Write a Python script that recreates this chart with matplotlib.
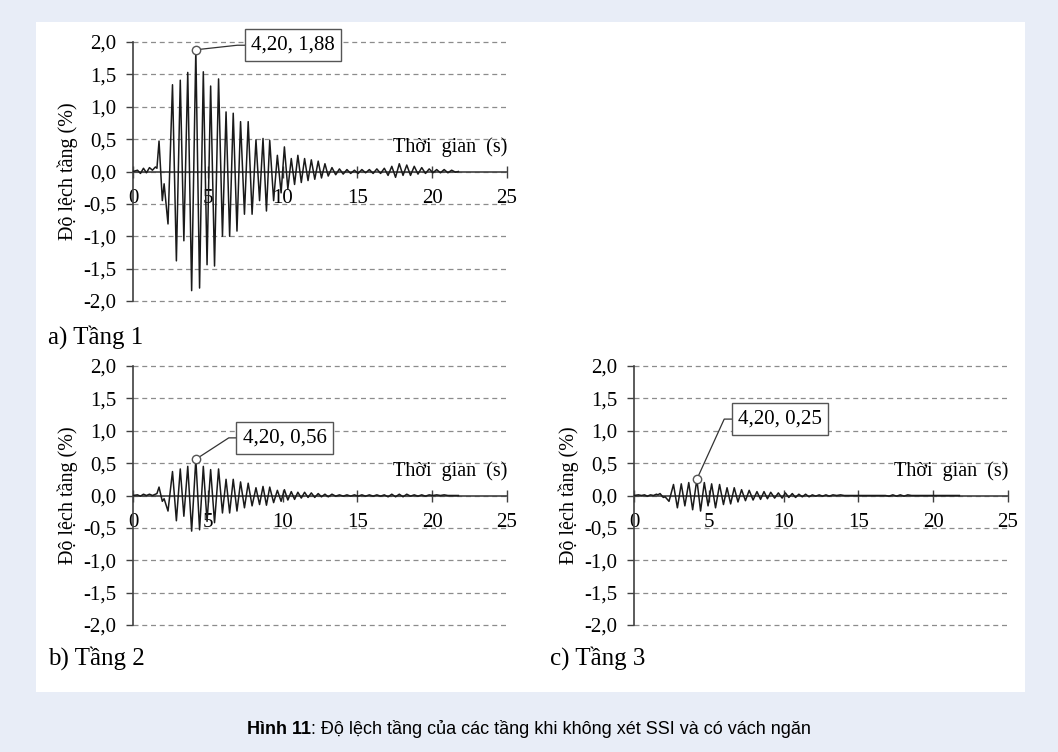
import numpy as np
import matplotlib.pyplot as plt
from matplotlib.patches import Rectangle

# time of each peak / turning point (s), shared by the three storeys
time_s = [0.0, 0.3, 0.5, 0.7, 0.9, 1.1, 1.3, 1.5, 1.6, 1.74,
          1.96, 2.08, 2.34, 2.64, 2.9, 3.16, 3.4, 3.66, 3.92, 4.2,
          4.45, 4.7, 4.95, 5.19, 5.45, 5.72, 5.98, 6.22, 6.46, 6.7,
          6.95, 7.19, 7.45, 7.7, 7.96, 8.22, 8.46, 8.69, 8.92, 9.14,
          9.4, 9.65, 9.9, 10.12, 10.35, 10.58, 10.8, 11.02, 11.25, 11.47,
          11.7, 11.92, 12.15, 12.38, 12.6, 12.83, 13.05, 13.3, 13.55, 13.8,
          14.05, 14.3, 14.55, 14.8, 15.05, 15.3, 15.55, 15.8, 16.05, 16.3,
          16.55, 16.8, 17.05, 17.3, 17.55, 17.8, 18.05, 18.3, 18.55, 18.8,
          19.05, 19.3, 19.55, 19.8, 20.05, 20.3, 20.55, 20.8, 21.05, 21.3,
          21.55, 21.75]

# drift (%) of storey 1, 2, 3
drift_1 = [0.0, 0.02, -0.03, 0.05, -0.02, 0.06, 0.02, 0.07, 0.05, 0.47,
           -0.45, -0.19, -0.81, 1.34, -1.38, 1.41, -1.07, 1.53, -1.84, 1.88,
           -1.80, 1.54, -1.44, 1.32, -1.46, 1.43, -1.00, 0.92, -1.00, 0.90,
           -0.92, 0.77, -0.66, 0.77, -0.66, 0.49, -0.45, 0.51, -0.61, 0.48,
           -0.45, 0.25, -0.33, 0.38, -0.27, 0.20, -0.20, 0.25, -0.17, 0.20,
           -0.14, 0.18, -0.12, 0.16, -0.10, 0.12, -0.07, 0.06, -0.05, 0.04,
           -0.04, 0.03, -0.03, 0.02, -0.03, 0.03, -0.02, 0.03, -0.03, 0.04,
           -0.03, 0.05, -0.06, 0.08, -0.09, 0.12, -0.06, 0.10, -0.06, 0.08,
           -0.04, 0.06, -0.03, 0.04, -0.02, 0.03, -0.02, 0.03, -0.02, 0.02,
           -0.01, 0.0]

drift_2 = [0.0, 0.01, -0.01, 0.02, 0.0, 0.02, 0.0, 0.02, 0.03, 0.13,
           -0.09, -0.05, -0.24, 0.37, -0.39, 0.41, -0.32, 0.45, -0.55, 0.56,
           -0.53, 0.45, -0.40, 0.40, -0.42, 0.41, -0.27, 0.25, -0.27, 0.25,
           -0.24, 0.21, -0.19, 0.19, -0.16, 0.12, -0.14, 0.14, -0.15, 0.13,
           -0.11, 0.08, -0.09, 0.09, -0.07, 0.06, -0.06, 0.05, -0.04, 0.05,
           -0.03, 0.04, -0.03, 0.03, -0.02, 0.02, -0.02, 0.02, -0.01, 0.01,
           -0.01, 0.01, -0.01, 0.01, -0.01, 0.01, -0.01, 0.01, -0.01, 0.01,
           -0.01, 0.01, -0.02, 0.02, -0.02, 0.02, -0.02, 0.02, -0.01, 0.01,
           -0.01, 0.01, -0.01, 0.01, 0.0, 0.01, 0.0, 0.01, 0.0, 0.0,
           0.0, 0.0]

drift_3 = [0.0, 0.01, 0.0, 0.01, -0.01, 0.01, 0.0, 0.02, 0.01, 0.03,
           -0.03, -0.02, -0.09, 0.17, -0.19, 0.18, -0.16, 0.20, -0.22, 0.25,
           -0.24, 0.20, -0.16, 0.18, -0.19, 0.17, -0.14, 0.12, -0.13, 0.12,
           -0.10, 0.09, -0.08, 0.08, -0.07, 0.06, -0.06, 0.06, -0.05, 0.05,
           -0.04, 0.04, -0.04, 0.04, -0.03, 0.03, -0.03, 0.02, -0.02, 0.02,
           -0.02, 0.01, -0.01, 0.01, -0.01, 0.01, -0.01, 0.01, 0.0, 0.01,
           0.0, 0.0, 0.0, 0.0, 0.0, 0.0, 0.0, 0.0, 0.0, 0.0,
           0.0, 0.0, -0.01, 0.01, -0.01, 0.01, -0.01, 0.01, 0.0, 0.0,
           0.0, 0.0, 0.0, 0.0, 0.0, 0.0, 0.0, 0.0, 0.0, 0.0,
           0.0, 0.0]

peak_time = 4.20
peak_drift = [1.88, 0.56, 0.25]
panel_titles = ["a) Tầng 1", "b) Tầng 2", "c) Tầng 3"]
x_ticks = [0, 5, 10, 15, 20, 25]
y_ticks = [-2.0, -1.5, -1.0, -0.5, 0.0, 0.5, 1.0, 1.5, 2.0]

serif = "Liberation Serif"
W, H = 1058, 752

fig = plt.figure(figsize=(W / 100, H / 100), dpi=100, facecolor="#e8edf7")
fig.patches.append(Rectangle((36 / W, 1 - 692 / H), (1025 - 36) / W, (692 - 22) / H,
                             transform=fig.transFigure, fc="white", ec="none", zorder=-5))


def comma(v):
    return ("%.1f" % v).replace(".", ",")


def panel(rect, drift, peak, box_x, box_y):
    ax = fig.add_axes(rect)
    ax.set_facecolor("none")
    ax.plot(time_s, drift, color="#1a1a1a", lw=1.1, zorder=3)
    ax.set_xlim(0, 25)
    ax.set_ylim(-2, 2)
    ax.set_xticks(x_ticks)
    ax.set_xticklabels([str(t) for t in x_ticks])
    ax.set_yticks(y_ticks)
    ax.set_yticklabels([comma(v) for v in y_ticks])
    for s in ["top", "right"]:
        ax.spines[s].set_visible(False)
    ax.spines["bottom"].set_position(("data", 0))
    for s in ["left", "bottom"]:
        ax.spines[s].set_color("#404040")
        ax.spines[s].set_linewidth(1.2)
    ax.grid(axis="y", ls=(0, (4, 3)), color="#8c8c8c", lw=0.9)
    for gl in ax.get_ygridlines():
        gl.set_clip_on(False)
    ax.tick_params(axis="x", direction="inout", length=9, width=1, color="#404040",
                   pad=8, labelsize=15)
    ax.tick_params(axis="y", direction="out", length=5, width=1, color="#404040",
                   pad=7, labelsize=15)
    for lab in ax.get_xticklabels() + ax.get_yticklabels():
        lab.set_family(serif)
    ax.set_ylabel("Độ lệch tầng (%)", family=serif, fontsize=14.5, labelpad=4)
    ax.text(25, 0.22, "Thời  gian  (s)", ha="right", va="bottom", family=serif, fontsize=14.5)

    # data label of the peak
    label = "%s, %s" % (("%.2f" % peak_time).replace(".", ","), ("%.2f" % peak).replace(".", ","))
    ax.plot([peak_time, box_x - 0.5, box_x], [peak, box_y, box_y], color="#333333", lw=0.9, zorder=4)
    ax.plot(peak_time, peak, "o", ms=6, mfc="white", mec="#555555", mew=1, zorder=5)
    ax.text(box_x + 0.42, box_y, label, ha="left", va="center", family=serif, fontsize=15,
            zorder=6, bbox=dict(boxstyle="square,pad=0.3", fc="white", ec="#555555", lw=1))
    return ax


panel([133 / W, 1 - 301 / H, 374 / W, 259 / H], drift_1, peak_drift[0], 7.47, 1.95)
panel([133 / W, 1 - 625 / H, 374 / W, 259 / H], drift_2, peak_drift[1], 6.9, 0.89)
panel([634 / W, 1 - 625 / H, 374 / W, 259 / H], drift_3, peak_drift[2], 6.53, 1.18)

fig.text(48 / W, 1 - 337 / H, panel_titles[0], family=serif, fontsize=18, va="center")
fig.text(48 / W, 1 - 658 / H, panel_titles[1], family=serif, fontsize=18, va="center")
fig.text(550 / W, 1 - 658 / H, panel_titles[2], family=serif, fontsize=18, va="center")

# caption: bold figure number + regular text, centred together
cap_font = ["Liberation Sans", "DejaVu Sans"]
cap_y = 1 - 729 / H
c1 = fig.text(0, cap_y, "Hình 11", family=cap_font, fontsize=13, weight="bold", va="center")
c2 = fig.text(0, cap_y, ": Độ lệch tầng của các tầng khi không xét SSI và có vách ngăn",
              family=cap_font, fontsize=13, va="center")
fig.canvas.draw()
w1 = c1.get_window_extent().width
w2 = c2.get_window_extent().width
start = W / 2 - (w1 + w2) / 2
c1.set_x(start / W)
c2.set_x((start + w1) / W)

fig.savefig("out.png", dpi=100, facecolor=fig.get_facecolor())
